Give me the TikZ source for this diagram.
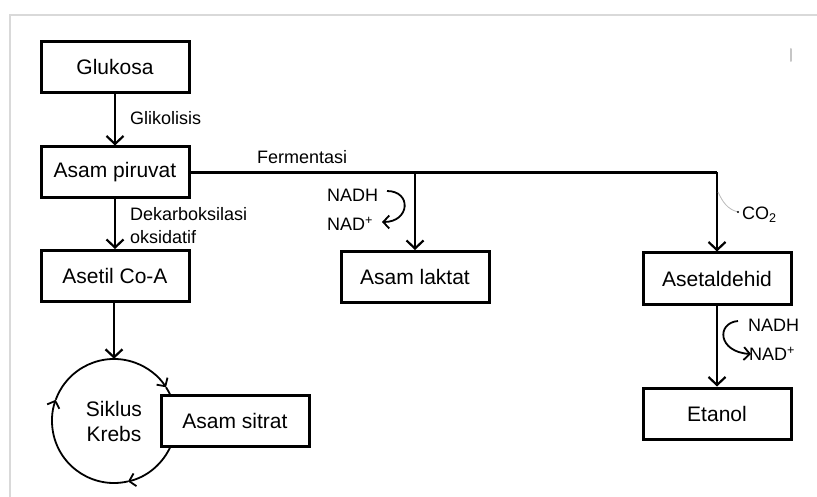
\documentclass[tikz,border=0pt]{standalone}
\usepackage{fontspec}
\setmainfont{Liberation Sans}
\usetikzlibrary{arrows.meta}
\begin{document}
\begin{tikzpicture}[x=1pt,y=-1pt,
  box/.style={draw, line width=3pt, fill=white, minimum width=148pt, minimum height=51pt, inner sep=0pt, font=\fontsize{21}{25}\selectfont},
  lbl/.style={anchor=west, inner sep=0pt, font=\fontsize{18}{22}\selectfont},
  flow/.style={line width=2.2pt, -{Straight Barb[length=8pt,width=17pt,line width=2.2pt]}},
  small/.style={line width=1.8pt, -{Straight Barb[length=6pt,width=13pt,line width=1.8pt]}},
  frame/.style={draw=gray!30, line width=1.5pt}]
\useasboundingbox (0,0) rectangle (817,497);
\draw[frame] (10,497) -- (10,15) -- (817,15);
\draw[gray!45, line width=2pt, line cap=round] (791,49) -- (791,61);

% boxes
\node[box] (glukosa) at (115,67) {Glukosa};
\node[box] (piruvat) at (115,172.5) {Asam piruvat};
\node[box] (asetil) at (115,276) {Asetil Co-A};
\node[box] (laktat) at (415,277) {Asam laktat};
\node[box] (asetaldehid) at (717,278.5) {Asetaldehid};
\node[box] (etanol) at (717,413.5) {Etanol};

% Krebs cycle
\node[circle, minimum size=124pt, inner sep=0pt, align=center, font=\fontsize{21}{25}\selectfont] (krebs) at (114,421) {Siklus\\Krebs};
\draw[small] (krebs.center) ++(-160:62) arc[start angle=-160, end angle=-33, radius=62];
\draw[small] (krebs.center) ++(-33:62) arc[start angle=-33, end angle=77, radius=62];
\draw[small] (krebs.center) ++(77:62) arc[start angle=77, end angle=200, radius=62];
\node[box] (sitrat) at (235,420.5) {Asam sitrat};

% labels
\node[lbl] (glik) at (130,118) {Glikolisis};
\node[lbl] (ferm) at (257,157) {Fermentasi};
\node[lbl] (dek1) at (130,214) {Dekarboksilasi};
\node[lbl] (dek2) at (130,237.5) {oksidatif};
\node[lbl] (nadh1) at (327,195) {NADH};
\node[lbl] (nad1) at (327,224) {NAD\textsuperscript{+}};
\node[lbl] (co2) at (742,215) {CO\textsubscript{2}};
\node[lbl] (nadh2) at (748,325) {NADH};
\node[lbl] (nad2) at (749,354) {NAD\textsuperscript{+}};

% coordinates
\coordinate (lj) at (415,172.5);
\coordinate (fj) at (717,172.5);
\coordinate (cs) at (718,192);
\coordinate (ce) at (738,212);
\coordinate (n1s) at (387,191);
\coordinate (n1e) at (382,222);
\coordinate (n2s) at (738,321);

% connectors
\draw[flow] (glukosa) -- (piruvat);
\draw[flow] (piruvat) -- (asetil);
\draw[flow] (asetil.south -| krebs.north) -- (krebs.north);
\draw[line width=2.2pt] (piruvat.east) -- (fj);
\draw[flow] (fj) -- (asetaldehid.north);
\draw[flow] (lj) -- (laktat.north);
\draw[flow] (asetaldehid) -- (etanol);
\draw[small] (n1s) .. controls (412,191) and (410,222) .. (n1e);
\draw[small] (n2s) .. controls (716,323) and (718,352) .. ([xshift=2pt]nad2.west);
\draw[gray!55, line width=0.8pt] (cs) to[out=-65,in=165] (ce);
\fill (ce) circle (1.1pt);
\end{tikzpicture}
\end{document}
